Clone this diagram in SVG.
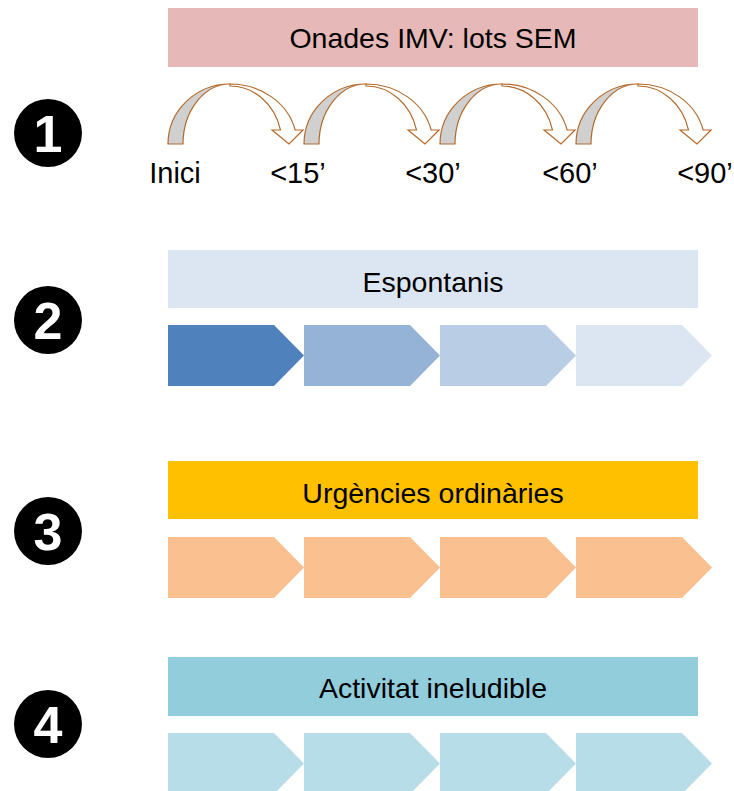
<svg xmlns="http://www.w3.org/2000/svg" xmlns:xlink="http://www.w3.org/1999/xlink" width="734" height="791" viewBox="0 0 734 791">
<style>
.t{font-family:"Liberation Sans",Arial,sans-serif;font-size:28.5px;fill:#000;text-anchor:middle}
.lbl{font-family:"Liberation Sans",Arial,sans-serif;font-size:29px;fill:#000;text-anchor:middle}
.num{font-family:"Liberation Sans",Arial,sans-serif;font-weight:bold;font-size:52px;fill:#fff;text-anchor:middle}
.back{fill:#D0D0D0;stroke:#B46A2B;stroke-width:1.2;stroke-linejoin:round}
.front{fill:#fff;stroke:#B46A2B;stroke-width:1.2;stroke-linejoin:miter}
</style>
<defs>
<g id="curv">
<path class="back" d="M0,144 A62,60 0 0 1 62,84 A47,60 0 0 0 15,144 Z"/>
<path class="front" d="M62,84 A67,60 0 0 1 127.2,130 L135,130 L121,144 L104,130 L112.5,130 A52,58 0 0 0 62,86 Z"/>
</g>
<path id="chev" d="M0,0 H106 L136,30.5 L106,61 H0 Z"/>
</defs>
<rect width="734" height="791" fill="#fff"/>

<g id="step1">
<g id="badge1"><circle cx="48" cy="133" r="34" fill="#000"/><text class="num" x="48" y="152">1</text></g>
<g id="banner1"><rect x="168" y="8" width="530" height="59" fill="#E6B8B7"/><text class="t" x="433" y="48">Onades IMV: lots SEM</text></g>
<g id="arrows">
<use xlink:href="#curv" transform="translate(168,0)"/>
<use xlink:href="#curv" transform="translate(304,0)"/>
<use xlink:href="#curv" transform="translate(440,0)"/>
<use xlink:href="#curv" transform="translate(576,0)"/>
</g>
<g id="labels">
<text class="lbl" x="175" y="183">Inici</text>
<text class="lbl" x="298" y="183">&lt;15’</text>
<text class="lbl" x="433" y="183">&lt;30’</text>
<text class="lbl" x="570" y="183">&lt;60’</text>
<text class="lbl" x="705" y="183">&lt;90’</text>
</g>
</g>

<g id="step2">
<g id="badge2"><circle cx="48" cy="320" r="34" fill="#000"/><text class="num" x="48" y="339">2</text></g>
<g id="banner2"><rect x="168" y="250" width="530" height="58" fill="#DCE6F2"/><text class="t" x="433" y="292">Espontanis</text></g>
<g id="chevrons2">
<use xlink:href="#chev" transform="translate(168,325)" fill="#4F81BD"/>
<use xlink:href="#chev" transform="translate(304,325)" fill="#95B3D7"/>
<use xlink:href="#chev" transform="translate(440,325)" fill="#B9CDE5"/>
<use xlink:href="#chev" transform="translate(576,325)" fill="#DCE6F2"/>
</g>
</g>

<g id="step3">
<g id="badge3"><circle cx="48" cy="531" r="34" fill="#000"/><text class="num" x="48" y="550">3</text></g>
<g id="banner3"><rect x="168" y="461" width="530" height="58" fill="#FFC000"/><text class="t" x="433" y="503">Urgències ordinàries</text></g>
<g id="chevrons3">
<use xlink:href="#chev" transform="translate(168,537)" fill="#FAC090"/>
<use xlink:href="#chev" transform="translate(304,537)" fill="#FAC090"/>
<use xlink:href="#chev" transform="translate(440,537)" fill="#FAC090"/>
<use xlink:href="#chev" transform="translate(576,537)" fill="#FAC090"/>
</g>
</g>

<g id="step4">
<g id="badge4"><circle cx="48" cy="724" r="34" fill="#000"/><text class="num" x="48" y="743">4</text></g>
<g id="banner4"><rect x="168" y="657" width="530" height="59" fill="#92CDDC"/><text class="t" x="433" y="698">Activitat ineludible</text></g>
<g id="chevrons4">
<use xlink:href="#chev" transform="translate(168,733)" fill="#B7DEE8"/>
<use xlink:href="#chev" transform="translate(304,733)" fill="#B7DEE8"/>
<use xlink:href="#chev" transform="translate(440,733)" fill="#B7DEE8"/>
<use xlink:href="#chev" transform="translate(576,733)" fill="#B7DEE8"/>
</g>
</g>
</svg>
